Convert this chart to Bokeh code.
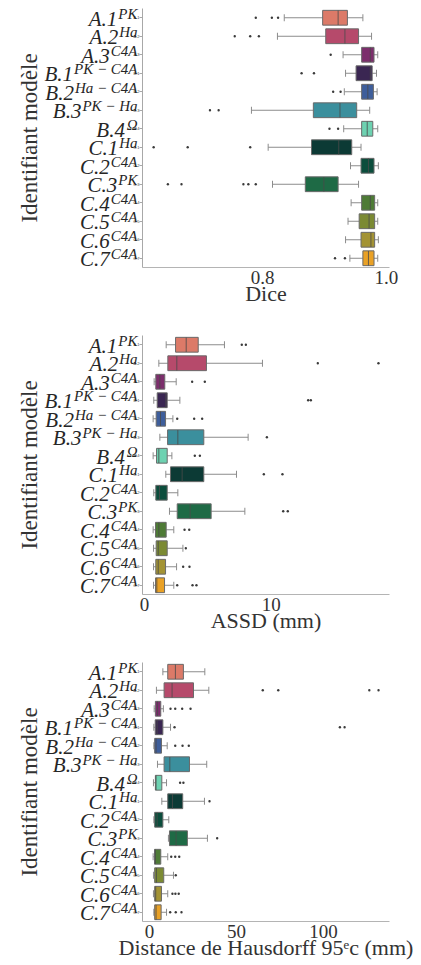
from bokeh.plotting import figure
from bokeh.models import ColumnDataSource, FactorRange, Range1d, FixedTicker, PrintfTickFormatter
from bokeh.layouts import column
from bokeh.core.properties import value
from bokeh.embed import file_html
from bokeh.resources import INLINE

# ---------------- data ----------------
cats = ["A.1", "A.2", "A.3", "B.1", "B.2", "B.3", "B.4",
        "C.1", "C.2", "C.3", "C.4", "C.5", "C.6", "C.7"]
sups = ["PK", "Ha", "C4A", "PK − C4A", "Ha − C4A", "PK − Ha", "Ω",
        "Ha", "C4A", "PK", "C4A", "C4A", "C4A", "C4A"]
palette = ["#dc7a68", "#b64a6b", "#7c2e6c", "#3a2652", "#3e5e9b", "#3b8f9d", "#6dd2b1",
           "#0c3a35", "#0b4d3c", "#1e6a45", "#4e7b36", "#7b8a33", "#a39334", "#e9a126"]

dice_lo = [0.835, 0.824, 0.930, 0.934, 0.932, 0.782, 0.931, 0.809, 0.942, 0.816, 0.943, 0.938, 0.934, 0.941]
dice_q1 = [0.897, 0.902, 0.960, 0.951, 0.960, 0.882, 0.960, 0.879, 0.959, 0.869, 0.960, 0.956, 0.959, 0.962]
dice_med = [0.922, 0.933, 0.974, 0.974, 0.970, 0.925, 0.969, 0.923, 0.971, 0.899, 0.974, 0.972, 0.975, 0.971]
dice_q3 = [0.937, 0.955, 0.980, 0.977, 0.979, 0.952, 0.978, 0.944, 0.980, 0.922, 0.981, 0.981, 0.981, 0.980]
dice_hi = [0.962, 0.976, 0.986, 0.984, 0.985, 0.973, 0.986, 0.959, 0.987, 0.955, 0.986, 0.986, 0.987, 0.986]
dice_out = [[0.789, 0.815, 0.825], [0.755, 0.780, 0.794], [0.910], [0.863, 0.883], [0.914, 0.926],
            [0.715, 0.729], [0.908, 0.922], [0.624, 0.679, 0.780], [],
            [0.647, 0.669, 0.769, 0.777, 0.789], [], [], [], [0.917, 0.933]]

assd_lo = [1.71, 1.13, 0.76, 0.73, 0.68, 1.21, 0.68, 1.68, 0.73, 1.97, 0.68, 0.71, 0.71, 0.71]
assd_q1 = [2.45, 1.84, 0.89, 1.00, 0.92, 1.82, 0.95, 2.05, 0.89, 2.58, 0.87, 0.92, 0.89, 0.87]
assd_med = [3.29, 2.55, 1.21, 1.68, 1.26, 2.63, 1.13, 2.97, 1.18, 3.60, 1.13, 1.08, 1.08, 0.97]
assd_q3 = [4.24, 4.89, 1.60, 1.79, 1.66, 4.68, 1.79, 4.68, 1.79, 5.26, 1.71, 1.79, 1.66, 1.58]
assd_hi = [6.31, 9.31, 2.50, 2.79, 2.24, 8.18, 2.16, 7.26, 2.63, 7.92, 2.31, 3.03, 2.53, 2.31]
assd_out = [[7.68, 8.0], [13.68, 18.47], [3.76, 4.76], [12.92, 13.13], [2.58, 3.92, 4.55],
            [9.66], [3.97, 4.37], [9.42, 10.89], [], [10.95, 11.31], [3.16, 3.53],
            [3.26], [3.05, 3.55], [2.58, 3.79, 4.10]]

hd_lo = [7.7, 4.0, 2.7, 2.5, 2.5, 4.6, 2.3, 7.1, 2.5, 10.9, 2.1, 2.3, 2.3, 2.5]
hd_q1 = [10.5, 8.4, 3.4, 3.3, 3.0, 8.4, 3.4, 10.5, 3.0, 11.5, 2.9, 3.0, 3.0, 3.0]
hd_med = [14.9, 13.0, 4.6, 4.4, 3.8, 11.7, 3.8, 13.2, 4.4, 15.3, 3.4, 4.0, 3.6, 3.8]
hd_q3 = [19.5, 25.3, 6.5, 7.7, 6.9, 23.0, 7.1, 19.1, 7.7, 21.8, 6.5, 8.2, 6.9, 6.7]
hd_hi = [31.8, 34.1, 8.0, 12.1, 10.2, 32.9, 9.8, 31.6, 11.1, 33.3, 10.5, 13.8, 10.5, 9.8]
hd_out = [[], [65.1, 74.0, 126.3, 131.6], [12.1, 14.8, 18.8, 23.6], [14.4, 109.4, 112.1],
          [14.8, 19.0, 22.6], [], [17.6, 19.5], [34.5], [], [38.9],
          [12.5, 14.8, 17.1], [15.1], [13.2, 14.9, 16.8], [11.9, 15.1, 18.4]]

dice_ticks = [0.6, 0.8, 1.0]
assd_ticks = [0, 10]
hd_ticks = [0, 50, 100]

# ---------------- styling ----------------
SERIF = "Liberation Serif"
MAIN_FS = 21
SUP_FS = 15
LEFT = 142
RIGHT = 32
FRAME_W = 247
FRAME_H = 259
CHAR_W = {"P": 611, "K": 667, "H": 722, "a": 500, "C": 667, "4": 500, "A": 611,
          "−": 675, " ": 250, "Ω": 770}


def sup_width(s):
    return sum(CHAR_W.get(c, 600) for c in s) * SUP_FS / 1000.0


def make_panel(lo, q1, med, q3, hi, outs, x_start, x_end, ticks, xlabel, top, bottom, fmt=None):
    p = figure(width=LEFT + FRAME_W + RIGHT, height=top + FRAME_H + bottom,
               output_backend="svg", toolbar_location=None,
               y_range=FactorRange(factors=list(reversed(cats))),
               x_range=Range1d(x_start, x_end),
               min_border_left=LEFT, min_border_right=RIGHT, min_border_top=top,
               min_border_bottom=bottom)
    p.outline_line_color = None
    p.xgrid.visible = False
    p.ygrid.visible = False
    p.background_fill_color = "white"

    src = ColumnDataSource(dict(y=cats, lo=lo, q1=q1, med=med, q3=q3, hi=hi, color=palette))
    # whiskers
    p.segment(x0="lo", y0="y", x1="q1", y1="y", source=src, line_color="#8c8c8c", line_width=1)
    p.segment(x0="q3", y0="y", x1="hi", y1="y", source=src, line_color="#8c8c8c", line_width=1)
    p.scatter(x="lo", y="y", source=src, marker="dash", angle=1.5708, size=7,
              line_color="#8c8c8c", line_width=1)
    p.scatter(x="hi", y="y", source=src, marker="dash", angle=1.5708, size=7,
              line_color="#8c8c8c", line_width=1)
    # boxes
    p.hbar(y="y", left="q1", right="q3", height=0.8, source=src,
           fill_color="color", line_color="#6a6a6a", line_width=1)
    # medians
    p.scatter(x="med", y="y", source=src, marker="dash", angle=1.5708, size=14.5,
              line_color="#4a4a4a", line_width=1, line_alpha=0.8)
    # outliers
    ox, oy = [], []
    for c, vals in zip(cats, outs):
        for v in vals:
            ox.append(v)
            oy.append(c)
    p.scatter(x=ox, y=oy, size=2.4, marker="circle", fill_color="#3a3a3a", line_color=None)

    # category labels: main part + superscript, right-aligned left of the axis
    lab = ColumnDataSource(dict(
        y=cats, x=[x_start] * len(cats), main=cats, sup=sups,
        sup_off=[-5.0] * len(cats),
        main_off=[-(5.0 + sup_width(s) + 1.0) for s in sups]))
    p.text(x="x", y="y", text="sup", source=lab, x_offset="sup_off", y_offset=-4,
           text_align="right", text_baseline="middle",
           text_font=value(SERIF), text_font_style="italic",
           text_font_size=f"{SUP_FS}px", text_color="#262626", level="overlay")
    p.text(x="x", y="y", text="main", source=lab, x_offset="main_off", y_offset=1,
           text_align="right", text_baseline="middle",
           text_font=value(SERIF), text_font_style="italic",
           text_font_size=f"{MAIN_FS}px", text_color="#262626", level="overlay")

    # y axis
    ya = p.yaxis[0]
    ya.major_label_overrides = {c: " " for c in cats}
    ya.major_label_text_font_size = "4px"
    ya.major_label_standoff = 0
    ya.major_tick_out = 3
    ya.major_tick_in = 0
    ya.major_tick_line_color = "#a8a8a8"
    ya.axis_line_color = "#a8a8a8"
    ya.axis_label = "Identifiant modèle"
    ya.axis_label_text_font = SERIF
    ya.axis_label_text_font_style = "normal"
    ya.axis_label_text_font_size = "23px"
    ya.axis_label_text_color = "#333333"
    ya.axis_label_standoff = 88

    # x axis
    xa = p.xaxis[0]
    xa.ticker = FixedTicker(ticks=ticks)
    if fmt is not None:
        xa.formatter = PrintfTickFormatter(format=fmt)
    xa.minor_tick_line_color = None
    xa.major_tick_out = 0
    xa.major_tick_in = 0
    xa.axis_line_color = "#b4b4b4"
    xa.major_label_text_font = SERIF
    xa.major_label_text_font_size = "19px"
    xa.major_label_text_color = "#333333"
    xa.major_label_standoff = 3
    xa.axis_label = xlabel
    xa.axis_label_text_font = SERIF
    xa.axis_label_text_font_style = "normal"
    xa.axis_label_text_font_size = "22px"
    xa.axis_label_text_color = "#333333"
    xa.axis_label_standoff = -6
    return p


p1 = make_panel(dice_lo, dice_q1, dice_med, dice_q3, dice_hi, dice_out, 0.606, 1.005,
                dice_ticks, "Dice", 8, 48, fmt="%.1f")
p2 = make_panel(assd_lo, assd_q1, assd_med, assd_q3, assd_hi, assd_out, -0.16, 19.34,
                assd_ticks, "ASSD (mm)", 20, 48)
p3 = make_panel(hd_lo, hd_q1, hd_med, hd_q3, hd_hi, hd_out, -4.0, 137.9,
                hd_ticks, "Distance de Hausdorff 95ᵉc (mm)", 20, 44)

layout = column(p1, p2, p3, spacing=0)
open("out.html", "w").write(file_html(layout, INLINE))
